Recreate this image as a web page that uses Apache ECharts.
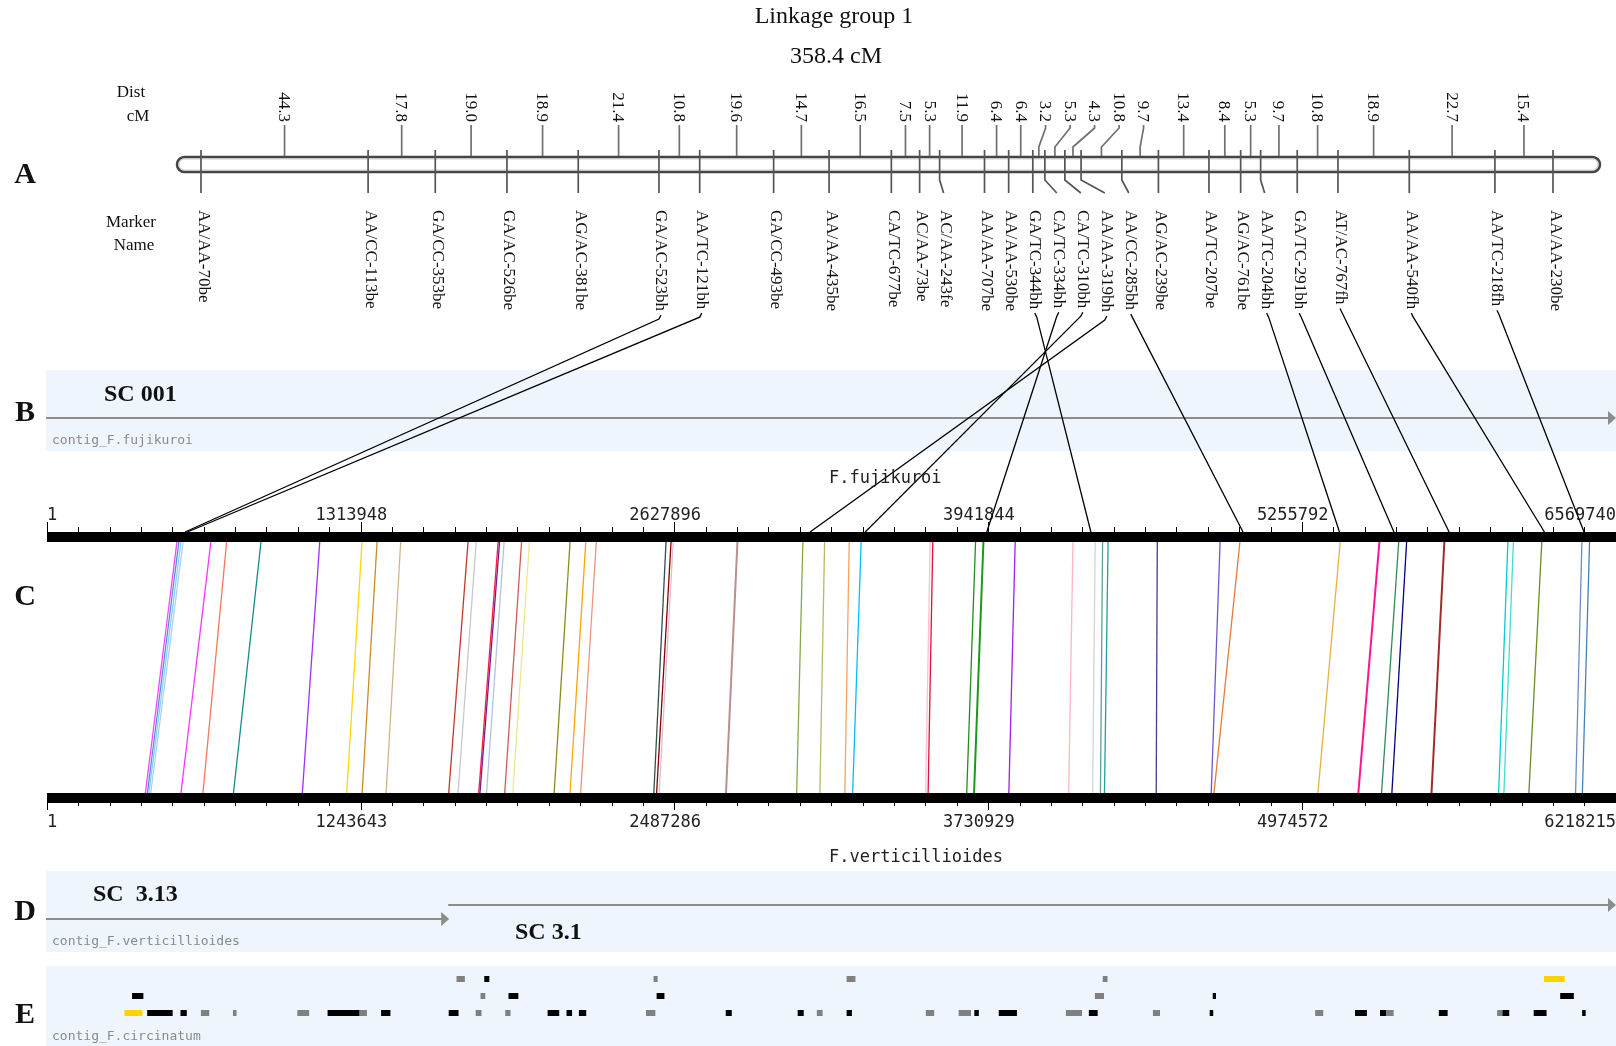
<!DOCTYPE html>
<html>
<head>
<meta charset="utf-8">
<script src="https://cdn.jsdelivr.net/npm/echarts@6/dist/echarts.min.js"></script>
<style>html,body{margin:0;padding:0;background:#fff}#c{width:1616px;height:1046px}</style>
</head>
<body>
<div id="c"></div>
<script>
// ---------------- DATA ----------------
const markerNames = ['AA/AA-70be','AA/CC-113be','GA/CC-353be','GA/AC-526be','AG/AC-381be','GA/AC-523bh','AA/TC-121bh','GA/CC-493be','AA/AA-435be','CA/TC-677be','AC/AA-73be','AC/AA-243fe','AA/AA-707be','AA/AA-530be','GA/TC-344bh','CA/TC-334bh','CA/TC-310bh','AA/AA-319bh','AA/CC-285bh','AG/AC-239be','AA/TC-207be','AG/AC-761be','AA/TC-204bh','GA/TC-291bh','AT/AC-767fh','AA/AA-540fh','AA/TC-218fh','AA/AA-230be'];
const markerCM = [0,44.3,62.1,81.1,100.0,121.4,132.2,151.8,166.5,183.0,190.5,195.8,207.7,214.1,220.5,223.7,229.0,233.3,244.1,253.8,267.2,275.6,280.9,290.6,301.4,320.3,343.0,358.4];
const intervalLabels = ['44.3','17.8','19.0','18.9','21.4','10.8','19.6','14.7','16.5','7.5','5.3','11.9','6.4','6.4','3.2','5.3','4.3','10.8','9.7','13.4','8.4','5.3','9.7','10.8','18.9','22.7','15.4'];
const groupLength = 358.4;

const fujiTicks = [0,1313948,2627896,3941844,5255792,6569740];
const vertTicks = [0,1243643,2487286,3730929,4974572,6218215];

const linkMarkers = ['GA/AC-523bh','AA/TC-121bh','GA/TC-344bh','CA/TC-334bh','CA/TC-310bh','AA/AA-319bh','AA/CC-285bh','AA/TC-204bh','GA/TC-291bh','AT/AC-767fh','AA/AA-540fh','AA/TC-218fh'];
const linkFujiPos = [578000,588000,4371000,3935000,3426000,3195000,5008000,5412000,5640000,5871000,6270000,6436000];

const synFuji = [544000,552000,561000,570000,686000,752000,896000,1142000,1319000,1382000,1481000,1763000,1797000,1889000,1895000,1914000,1987000,2020000,2190000,2256000,2300000,2592000,2613000,2622000,2891000,3165000,3256000,3359000,3409000,3698000,3709000,3888000,3921000,4054000,4296000,4389000,4420000,4443000,4649000,4912000,4995000,5415000,5579000,5660000,5693000,5851000,6117000,6140000,6259000,6427000,6459000];
const synVert = [390000,398000,404000,411000,531000,618000,739000,1012000,1188000,1249000,1344000,1592000,1629000,1711000,1716000,1742000,1814000,1846000,2010000,2073000,2115000,2405000,2416000,2426000,2691000,2971000,3063000,3162000,3193000,3482000,3492000,3645000,3674000,3812000,4049000,4144000,4175000,4191000,4396000,4614000,4625000,5037000,5197000,5289000,5330000,5487000,5753000,5774000,5873000,6058000,6085000];

const fujiScaffoldNames = ['SC 001'];
const fujiScaffoldStart = [0];
const fujiScaffoldEnd = [6569740];

const vertScaffoldNames = ['SC  3.13','SC 3.1'];
const vertScaffoldStart = [0,1590000];
const vertScaffoldEnd = [1590000,6218215];

// circinatum contig hits on the F.verticillioides scale: row, start, end, type (0 black, 1 grey, 2 yellow)
const hitRow = [0,0,0,0,0,0, 1,1,1,1,1,1,1,
  2,2,2,2,2,2,2,2,2,2,2,2,2,2,2,2,2,2,2,2,2,2,2,2,2,2,2,2,2,2,2,2,2,2,2,2,2];
const hitStart = [1623000,1733000,2404000,3169000,4184000,5933000,
  337000,1718000,1829000,2416000,4153000,4620000,5997000,
  307000,397000,529000,610000,737000,992000,1112000,1239000,1324000,1592000,1699000,1816000,1984000,2059000,2108000,2374000,2690000,2975000,3051000,3169000,3483000,3613000,3675000,3772000,4038000,4129000,4383000,4608000,5026000,5184000,5283000,5308000,5516000,5747000,5768000,5892000,6084000];
const hitEnd = [1656000,1753000,2420000,3204000,4203000,6015000,
  382000,1737000,1868000,2447000,4189000,4633000,6051000,
  378000,498000,554000,643000,751000,1039000,1239000,1268000,1361000,1631000,1722000,1837000,2030000,2081000,2137000,2411000,2714000,2999000,3074000,3190000,3516000,3662000,3693000,3844000,4102000,4164000,4411000,4622000,5058000,5231000,5308000,5337000,5551000,5768000,5795000,5943000,6098000];
const hitType = [1,0,1,1,1,2,
  0,1,0,0,1,0,0,
  2,0,0,1,1,1,0,1,0,0,1,1,0,0,0,1,0,0,1,0,1,1,0,0,1,0,1,0,1,0,0,1,0,1,0,0,0];

// ---------------- STYLES ----------------
const synColors = ['#ff40ff','#4a90d9','#87cefa','#a9d3f0','#ff33ff','#f4795b','#138a8a','#9b30ff','#ffd700','#cd8c1e','#d2b48c','#c0392b','#c8c8c8','#ff1a40','#7a1a8a','#b0c4de','#cd5c5c','#f0e68c','#8b8b1a','#ffa500','#e9967a','#2f4f4f','#8b0000','#d8bfd8','#bc8f8f','#86a84a','#bdb76b','#f4a460','#00bfff','#ffc0cb','#dc143c','#228b22','#1a9a1a','#a020f0','#ffb6c1','#d3d3d3','#5f9ea0','#20a0a0','#483d8b','#6a5acd','#e07b39','#e8b040','#ff1493','#2e8b57','#00008b','#a52a2a','#00ced1','#40e0d0','#6b8e23','#6c8ebf','#4682b4'];
const thickSyn = [24,32,42,45];
const hitColors = ['#000000','#808080','#ffd200'];
const hitRowY = [979,996,1013];
const serif = '"Liberation Serif","DejaVu Serif",serif';
const mono = '"DejaVu Sans Mono","Liberation Mono",monospace';

const chart = echarts.init(document.getElementById('c'), null, {renderer:'canvas', width:1616, height:1046});
const mctx = document.createElement('canvas').getContext('2d');
mctx.font = '17px "Liberation Serif"';

function axisPx(axisIndex, v) {
  const r = chart.convertToPixel({xAxisIndex: axisIndex}, v);
  return Array.isArray(r) ? r[0] : r;
}

function renderLinkage(params, api) {
  const ch = [];
  const xs = markerCM.map(v => api.coord([v, 0])[0]);
  const xa = xs[0], xb = xs[xs.length - 1];
  const bx = xa - 24, bw = (xb + 47) - bx;
  ch.push({type:'rect', shape:{x:bx, y:157, width:bw, height:15, r:7.5}, style:{fill:'#fff', stroke:'#454545', lineWidth:2.6}});
  ch.push({type:'rect', shape:{x:bx+1.9, y:158.9, width:bw-3.8, height:11.2, r:5.6}, style:{fill:'none', stroke:'#c0c0c0', lineWidth:1}});
  // marker ticks & labels
  let prev = -Infinity;
  const lx = xs.map(x => { const v = Math.max(x, prev + 24); prev = v; return v; });
  xs.forEach((x, i) => {
    const pts = Math.abs(lx[i] - x) < 0.5 ? [[x,150],[x,193]] : [[x,150],[x,180],[lx[i],193]];
    ch.push({type:'polyline', shape:{points:pts}, style:{stroke:'#555', lineWidth:1.7, fill:'none'}});
    ch.push({type:'text', x: lx[i] + 2, y: 210, rotation: -Math.PI/2,
      style:{text: markerNames[i], fontSize:17, fontFamily:serif, fill:'#111', align:'left', verticalAlign:'middle'}});
  });
  // distance ticks & labels
  const mids = intervalLabels.map((d, i) => api.coord([(markerCM[i] + markerCM[i+1]) / 2, 0])[0]);
  prev = -Infinity;
  const dx = mids.map(m => { const v = Math.max(m, prev + 24.5); prev = v; return v; });
  mids.forEach((m, i) => {
    const pts = Math.abs(dx[i] - m) < 0.5 ? [[m,125],[m,156]] : [[dx[i],125],[dx[i],128],[m,147],[m,156]];
    ch.push({type:'polyline', shape:{points:pts}, style:{stroke:'#707070', lineWidth:1.7, fill:'none'}});
    ch.push({type:'text', x: dx[i] - 1, y: 122, rotation: -Math.PI/2,
      style:{text: intervalLabels[i], fontSize:17, fontFamily:serif, fill:'#111', align:'right', verticalAlign:'middle'}});
  });
  // connectors to F. fujikuroi physical positions
  linkMarkers.forEach((name, k) => {
    const i = markerNames.indexOf(name);
    const tw = mctx.measureText(name).width;
    const sy = 210 + tw + 4;
    const ex = axisPx(1, linkFujiPos[k]);
    if (ex == null || isNaN(ex)) return;
    ch.push({type:'polyline', shape:{points:[[lx[i]+2, sy],[lx[i]+2 + (ex > lx[i] ? 2 : -2), sy+4],[ex, 532]]}, style:{stroke:'#000', lineWidth:1.3, fill:'none'}, z2: 10});
  });
  return {type:'group', children: ch};
}

function arrow(xs, xe, y, color) {
  return [
    {type:'line', shape:{x1:xs, y1:y, x2:xe-7, y2:y}, style:{stroke:color, lineWidth:2}},
    {type:'polygon', shape:{points:[[xe-8,y-7],[xe,y],[xe-8,y+7]]}, style:{fill:color}}
  ];
}

function renderFujiScaffold(params, api) {
  const xs = api.coord([api.value(0), 0])[0] - 1;
  const xe = api.coord([api.value(1), 0])[0];
  return {type:'group', children: arrow(xs, xe, 418, '#8c8c8c')};
}

function renderVertScaffold(params, api) {
  const xs = api.coord([api.value(0), 0])[0] - (params.dataIndex === 0 ? 1 : 0);
  const xe = api.coord([api.value(1), 0])[0] + (params.dataIndex === 0 ? 1 : 0);
  const y = params.dataIndex === 0 ? 919 : 905;
  return {type:'group', children: arrow(xs, xe, y, '#8c8c8c')};
}

function renderSynteny(params, api) {
  const top = api.coord([api.value(0), 0])[0];
  const bot = axisPx(2, api.value(1));
  const i = params.dataIndex;
  return {type:'line', shape:{x1:top, y1:542, x2:bot, y2:793},
    style:{stroke: synColors[i], lineWidth: thickSyn.indexOf(i) >= 0 ? 2 : 1.3}};
}

function renderHits(params, api) {
  const x1 = api.coord([api.value(0), 0])[0];
  const x2 = api.coord([api.value(1), 0])[0];
  const y = hitRowY[api.value(2)];
  return {type:'rect', shape:{x:x1, y:y-3, width:Math.max(x2 - x1, 2.5), height:6},
    style:{fill: hitColors[api.value(3)]}};
}

function axisCfg(gridIndex, position, ticks, major, minor, margin) {
  const max = ticks[ticks.length - 1];
  return {
    type:'value', gridIndex, position, min: ticks[0], max, interval: ticks[1],
    axisLine:{show:true, onZero:false, lineStyle:{color:'#000', width:10, cap:'butt'}},
    axisTick:{show:true, length:major, lineStyle:{color:'#000', width:1}},
    minorTick:{show:true, splitNumber:10, length:minor, lineStyle:{color:'#000', width:1}},
    splitLine:{show:false}, minorSplitLine:{show:false},
    axisLabel:{show:true, margin, hideOverlap:false, showMinLabel:true, showMaxLabel:true,
      alignMinLabel:'left', alignMaxLabel:'right',
      fontFamily: mono, fontSize:17, color:'#222',
      formatter: v => v === 0 ? '1' : (v >= max ? String(v) : '{m|' + v + '}'),
      rich:{m:{padding:[0,19,0,0], fontFamily: mono, fontSize:17, color:'#222'}}}
  };
}

function t(x, y, text, size, family, extra) {
  return Object.assign({type:'text', x, y, z:100,
    style: Object.assign({text, fontSize:size, fontFamily:family, fill:'#111', align:'left', verticalAlign:'middle'}, extra && extra.style || {})},
    extra && extra.el || {});
}

const option = {
  animation:false,
  backgroundColor:'#fff',
  grid:[
    {left:201, right:63, top:150, height:43, outerBoundsMode:'none', containLabel:false},
    {left:47, right:0, top:537, bottom:248, outerBoundsMode:'none', containLabel:false}
  ],
  xAxis:[
    {type:'value', gridIndex:0, min:0, max:groupLength, show:false},
    axisCfg(1, 'top', fujiTicks, 15, 10, 13),
    axisCfg(1, 'bottom', vertTicks, 12, 8, 16)
  ],
  yAxis:[
    {type:'value', gridIndex:0, min:0, max:1, show:false},
    {type:'value', gridIndex:1, min:0, max:1, show:false}
  ],
  graphic:[
    {type:'rect', z:-10, shape:{x:46, y:370, width:1570, height:81}, style:{fill:'#eef5fd'}},
    {type:'rect', z:-10, shape:{x:46, y:871, width:1570, height:81}, style:{fill:'#eef5fd'}},
    {type:'rect', z:-10, shape:{x:46, y:966, width:1570, height:80}, style:{fill:'#eef5fd'}},
    t(834, 17, 'Linkage group 1', 24, serif, {style:{align:'center'}}),
    t(836, 57, '358.4 cM', 24, serif, {style:{align:'center'}}),
    t(131, 93, 'Dist', 17, serif, {style:{align:'center'}}),
    t(138, 117, 'cM', 17, serif, {style:{align:'center'}}),
    t(131, 223, 'Marker', 17, serif, {style:{align:'center'}}),
    t(134, 246, 'Name', 17, serif, {style:{align:'center'}}),
    t(25, 175, 'A', 30, serif, {style:{align:'center', fontWeight:'bold'}}),
    t(25, 413, 'B', 30, serif, {style:{align:'center', fontWeight:'bold'}}),
    t(25, 597, 'C', 30, serif, {style:{align:'center', fontWeight:'bold'}}),
    t(25, 912, 'D', 30, serif, {style:{align:'center', fontWeight:'bold'}}),
    t(25, 1015, 'E', 30, serif, {style:{align:'center', fontWeight:'bold'}}),
    t(104, 395, fujiScaffoldNames[0], 24, serif, {style:{fontWeight:'bold'}}),
    t(93, 895, vertScaffoldNames[0], 24, serif, {style:{fontWeight:'bold'}}),
    t(515, 933, vertScaffoldNames[1], 24, serif, {style:{fontWeight:'bold'}}),
    t(52, 441, 'contig_F.fujikuroi', 13, mono, {style:{fill:'#8a8a8a'}}),
    t(52, 942, 'contig_F.verticillioides', 13, mono, {style:{fill:'#8a8a8a'}}),
    t(52, 1037, 'contig_F.circinatum', 13, mono, {style:{fill:'#8a8a8a'}}),
    t(829, 479, 'F.fujikuroi', 17, mono, {style:{fill:'#222'}}),
    t(829, 858, 'F.verticillioides', 17, mono, {style:{fill:'#222'}})
  ],
  series:[
    {type:'custom', name:'F. fujikuroi scaffolds', coordinateSystem:'cartesian2d', xAxisIndex:1, yAxisIndex:1, silent:true,
      data: fujiScaffoldStart.map((s, i) => [s, fujiScaffoldEnd[i]]), renderItem: renderFujiScaffold},
    {type:'custom', name:'synteny', coordinateSystem:'cartesian2d', xAxisIndex:1, yAxisIndex:1, silent:true,
      data: synFuji.map((f, i) => [f, synVert[i]]), renderItem: renderSynteny},
    {type:'custom', name:'F. verticillioides scaffolds', coordinateSystem:'cartesian2d', xAxisIndex:2, yAxisIndex:1, silent:true,
      data: vertScaffoldStart.map((s, i) => [s, vertScaffoldEnd[i]]), renderItem: renderVertScaffold},
    {type:'custom', name:'F. circinatum contigs', coordinateSystem:'cartesian2d', xAxisIndex:2, yAxisIndex:1, silent:true,
      data: hitStart.map((s, i) => [s, hitEnd[i], hitRow[i], hitType[i]]), renderItem: renderHits},
    {type:'custom', name:'Linkage group 1', coordinateSystem:'cartesian2d', xAxisIndex:0, yAxisIndex:0, silent:true, z:5,
      data:[[0,0]], renderItem: renderLinkage}
  ]
};
chart.setOption(option);
</script>
</body>
</html>
